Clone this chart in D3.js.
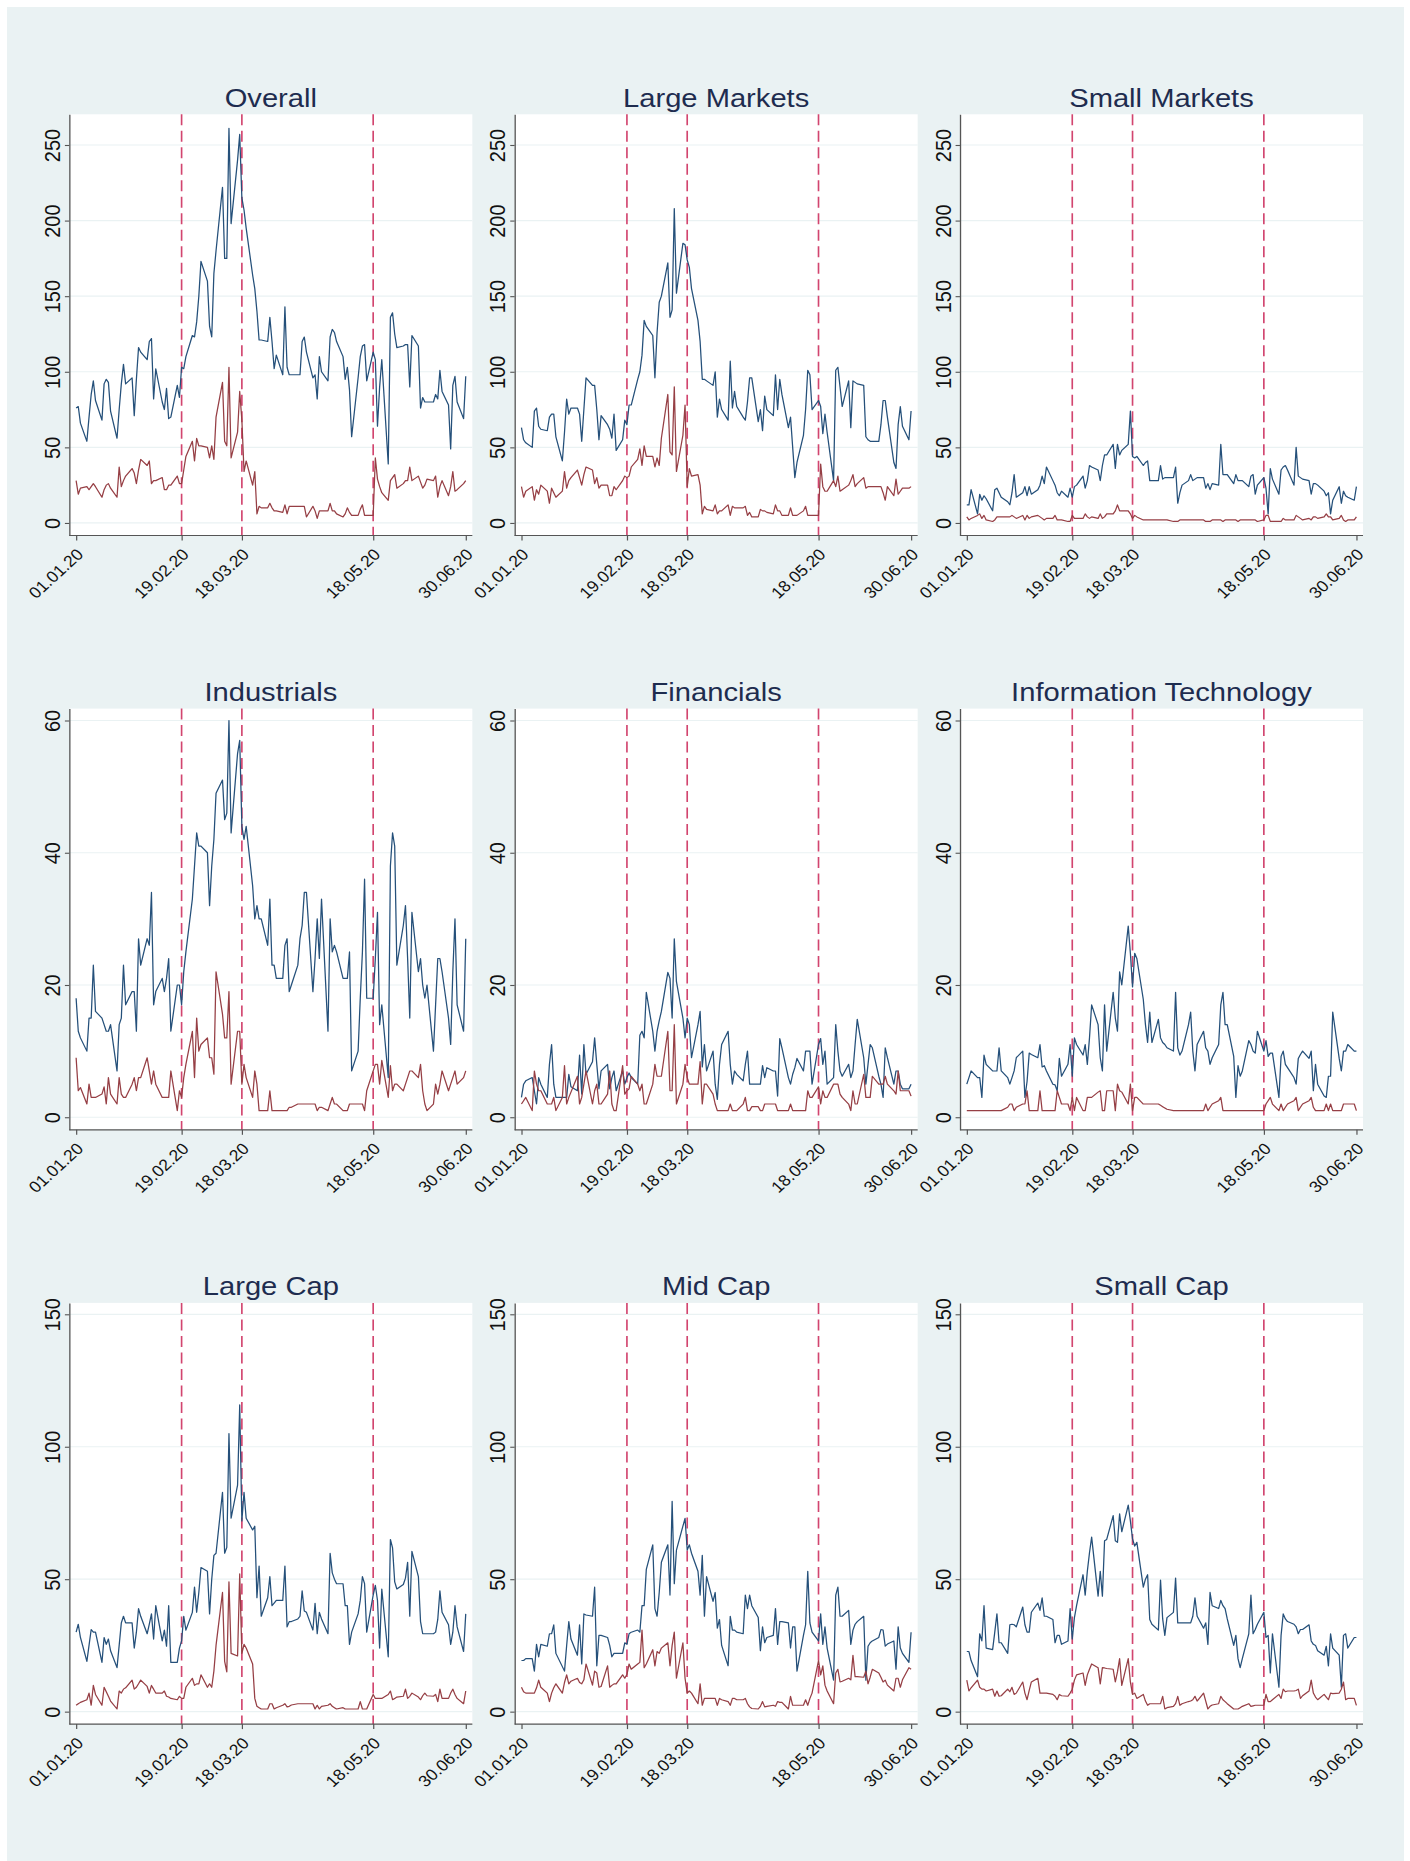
<!DOCTYPE html>
<html>
<head>
<meta charset="utf-8">
<script src="https://cdn.jsdelivr.net/npm/d3@7"></script>
<style>
  body { margin: 0; background: #fff; }
  text { font-family: "Liberation Sans", Arial, Helvetica, sans-serif; }
</style>
</head>
<body>
<svg id="chart"></svg>
<script>
"use strict";

///////////
///// data (one value per trading day, 01.01.20 - 30.06.20)
///////////

var overallA = [76,77,66, 54,70,85,94,81, 68,92,95,93,74, 56,75,92,105,92, 96,71,95,116,113,
  108,120,122,82,102, 80,75,89,69,70, 91,83,103,102,110, 124,123,133,150,173, 160,130,123,165,180,
  222,175,175,261,198, 240,257,215,207,195, 164,155,140,121,121, 120,136,120,102,111, 98,143,103,98,98,
  98,98,120,123,113, 96,98,82,110,100, 94,123,128,126,120, 110,95,103,88,57, 96,110,117,118,94,
  113,108,64,90,108, 39,136,139,125,116, 117,118,118,90,124, 117,76,83,80,80, 80,85,82,101,87,
  78,49,91,97,80, 69,97];
var overallB = [28,19,23, 24,22,24,26,24, 17,22,25,26,23, 17,37,24,28,31, 36,33,26,35,42,
  38,41,26,28,28, 30,22,22,25,25, 31,26,26,35,44, 54,41,56,51,51, 50,43,51,42,70,
  93,54,51,103,43, 60,87,68,34,41, 25,34,6,11,10, 10,13,10,8,8, 7,12,6,11,11,
  11,11,11,11,4, 11,8,3,8,8, 8,13,8,8,6, 4,6,10,7,5, 5,9,12,5,5,
  5,43,29,24,20, 15,28,30,32,23, 26,28,28,37,28, 31,27,23,25,29, 28,31,17,24,28,
  18,24,34,21,22, 26,28];

var largeMarketsA = [63,55,53, 50,74,76,64,62, 61,70,72,72,57, 41,60,82,72,76, 76,72,54,75,96,
  91,91,75,55,71, 65,62,56,72,48, 55,68,65,78,78, 95,100,111,134,130, 124,96,126,146,150,
  172,136,141,208,152, 185,184,174,169,155, 134,120,95,95,94, 91,100,70,82,75, 68,107,76,87,77,
  70,68,80,96,96, 67,75,61,84,75, 71,98,75,95,85, 63,70,50,30,40, 58,75,101,98,75,
  81,77,59,72,60, 28,101,103,90,77, 94,63,94,93,92, 91,57,55,54,54, 54,65,81,81,70,
  40,36,65,77,64, 55,74];
var largeMarketsB = [24,17,21, 24,15,22,19,25, 21,13,23,20,17, 21,34,23,28,30, 35,30,25,32,37,
  35,26,30,23,25, 25,18,18,24,22, 28,31,30,31,37, 42,49,38,51,44, 44,37,43,38,56,
  85,47,45,90,34, 58,78,24,36,31, 32,25,6,11,9, 8,12,6,8,8, 12,5,11,10,10,
  10,11,5,7,4, 4,9,8,8,7, 6,12,8,8,5, 5,10,5,5,5, 8,11,5,5,5,
  5,39,24,21,21, 28,24,31,21,22, 25,28,32,24,26, 30,23,24,24,24, 24,24,20,15,24,
  18,29,19,21,23, 23,24];

var smallMarketsA = [12,12,22, 6,19,15,18,16, 8,22,23,20,17, 14,12,20,32,17, 20,24,18,24,19,
  22,25,31,26,37, 28,25,20,18,21, 17,23,17,24,25, 31,23,28,38,37, 35,28,38,45,45,
  52,36,52,45,48, 52,74,44,43,44, 38,40,41,28,28, 28,38,29,30,30, 30,37,13,20,25,
  28,32,28,29,30, 30,23,26,22,26, 25,52,32,32,32, 26,32,28,28,28, 24,31,32,19,25,
  30,23,6,36,29, 19,35,37,38,35, 25,50,31,30,29, 28,19,26,26,25, 21,18,20,6,15,
  24,13,21,18,17, 15,24];
var smallMarketsB = [4,2,3, 5,6,3,5,2, 1,2,4,4,4, 4,4,5,4,3, 5,2,5,3,4,
  5,4,3,2,3, 3,5,2,2,2, 1,1,5,3,3, 3,6,4,3,4, 3,6,3,4,6,
  6,8,12,8,8, 8,6,3,5,4, 2,2,2,2,2, 2,2,2,2,2, 1,1,1,2,2,
  2,2,2,2,2, 2,1,1,1,2, 2,2,1,2,2, 2,2,1,2,2, 2,2,2,2,1,
  2,5,5,1,1, 1,1,3,2,2, 2,5,4,3,2, 3,2,4,4,3, 4,6,4,4,2,
  3,5,2,1,2, 2,4];

var industrialsA = [18,13,12, 10,15,15,23,16, 15,14,13,13,14, 7,14,15,23,17, 19,19,13,27,23,
  27,26,34,17,19, 21,19,21,24,13, 20,20,17,22,25, 33,38,43,41,41, 40,32,38,42,49,
  51,45,46,60,43, 55,57,44,42,44, 35,30,32,30,30, 26,33,23,23,21, 21,26,27,19,20,
  23,27,29,34,34, 19,24,30,24,33, 13,30,25,26,25, 21,21,21,25,7, 10,18,25,36,18,
  18,24,31,14,17, 6,38,43,41,23, 29,32,24,15,31, 22,24,20,18,20, 10,17,24,24,22,
  15,11,22,30,17, 13,27];
var industrialsB = [9,4,4.5, 2,5,3,3,3, 3.5,4.6,2,6,3.5, 2,6,3.5,3,3, 5,6,4,6,6,
  9,7,5,7,5, 3,3,3,3,7, 1,4,3,6,8, 13,6,15,10,11, 12,9,9,6.5,22,
  15.6,12,12,19,5, 13,13,5,8,6, 3,7,5,1,1, 1,4,1,1,1, 1,1,1,1.5,1.5,
  2,2,2,2,2, 2,2,1,1.5,1.5, 1,2,3,2,2, 1,1,1,2,2, 2,2,2,1,4,
  7,8,8,5,8.6, 3,7.8,4,5,5, 4,5,6,7,7, 6,8,4,2,1, 2,5,3.5,5,7,
  4,5,6,7,5, 6,7];

var financialsA = [3,5,5.5, 6,4,2,6,5, 3,8,11,5,3, 3,3,3,6.5,4.6, 4,9.4,3.5,11,6.5,
  8.4,12,8,4.3,7, 8,4.3,6,7,4, 7,5,6,6.7,6, 5,12.4,13,12,18.9, 13,10,13,14.6,16,
  21.9,21,15,27,20.5, 15,12,15,14,9, 14,16,7.6,11,7, 10,5,2.7,8,11, 13,8,5,7,6.5,
  5.5,8,10,5,5, 5,5,7.8,6,7.5, 7,7,3.2,11.9,10.5, 6,5,6.5,7.5,8.9, 7,10,10,10,5,
  11,11.9,8,10,5, 6,14,10,7,6.2, 8,6,7,11,14.8, 9,5,8,11,10.5, 6.2,5,3,10.5,9,
  5,7,7,5,4.3, 4.3,5];
var financialsB = [2,2.5,3, 1,7,5,4,4, 2,2,2,3,1, 3,7.8,2,3,3.8, 6.2,2,3,5,7,
  2,4,5,2,2, 3.5,7,2,1,1, 7.8,3.5,4,4.3,6.2, 5,4,5,2,2, 5,8,6.2,6.2,6.2,
  13,4,4,14,2, 5,8,6,5,5, 5,8.4,2,5,5, 3.5,2,1,1,1, 1,2,1,1,1,
  2,3,1,1,1.6, 1.6,1,1,2,2, 2,2,1,1,1, 1,2,1,1,1, 1,1,4,3,3,
  4.6,2,4,3,3, 5,5,5,3.5,3, 2,1,4,2,2, 6.5,3,3,3,6.2, 5,5,5,6.2,5,
  4,3.5,7,4,4, 4,3.2];

var infoTechA = [5,6,7, 6,6,3,9.4,8, 7,7,7,10.5,7, 6,5,6,7,9, 10,3,5.4,9.7,9.5,
  9,11,7.6,7.8,7, 5,4.9,4,8.9,6.2, 8,11,6.2,12,11, 9.4,11,8,12,17, 14,9,7,17,10,
  18.9,15,13,22,20, 28.9,24.8,19.7,24.8,24, 17.8,14,11.3,15.9,11.3, 14.8,12,11.3,11,10.5, 10,18.9,10.5,9.4,10,
  14,15.9,10,7,11, 13,10.5,10,8,9, 11,17,18.9,14,14, 9.2,3,7.8,6.2,7, 11.6,11,10,9.7,13,
  10,11.6,9.2,9.7,9.7, 3,9.2,10,8,7.5, 6,5,8.9,9.5,10, 8.9,10,4,8,5, 3.2,3,6.2,6.2,15.9,
  8.9,7,10,10,11, 10,10];
var infoTechB = [1,1,1, 1,1,1,1,1, 1,1,1,1,1, 1.5,2,2,1,1.5, 2,2,4,1,1,
  1,4,1,1,1, 1,1,4,3,2, 2,1,3,1,3, 1,1,3,3,3, 3.8,4,1,1,4,
  4,1,5,4,3.8, 2,5,1,3,3, 2,2,2,2,2, 2,1.8,1.6,1.4,1.2, 1,1,1,1,1,
  1,1,1,1,1, 1,2,1,1.5,2, 2.5,3,1,1,1, 1,1,1,1,1, 1,1,1,1,1,
  1,2,2.5,3,2, 1,2,1,1.5,2, 2.5,3,1,1.5,2, 2.5,3,1.5,1,1, 1,2,1,2,1,
  1,1,2,2,2, 2,1];

var largeCapA = [30,33,28, 19,25,31,30,30, 18.6,28,25.4,27.4,23, 16.6,25,33.5,36,33.5, 33.5,24,30,38.9,36,
  29.4,33,36.9,27.4,40, 26.7,30.8,24.7,40,18.6, 18.6,24,26.7,36,30.8, 37.5,47,37.5,45,54.4, 53,36.9,50,59,59.8,
  82.8,59.8,62,105,73, 85.5,115.8,72,82.8,73, 68.6,70,43,55,36, 43,51,40,41,42, 42,55,32,34,34,
  35,36,45.6,38,37.5, 30.8,40.9,29.4,37.5,35, 29.4,59.8,52.4,50,48.3, 48.3,40,40,25.4,30, 36.9,42,51,48.3,30,
  44,47.7,42,24,46.3, 20.7,65,61.8,49,46.3, 48,50.4,56.4,36,60.5, 51,34,29.4,29.4,29.4, 29.4,30,34.8,45.6,37.5,
  32.8,25.4,30,40,32, 22.7,36.9];
var largeCapB = [2.4,3,3.5, 4.5,7,2.4,9.9,6.5, 2.4,9.2,7.5,5.8,4, 1,7.8,7,8.5,9, 11.9,8.5,9.2,10.5,11.9,
  9.5,7,9.9,8.5,7, 7,7.8,5.8,5.5,5, 4.5,5.8,5,5,9.2, 12.6,9.9,10.5,10.5,13.9, 9.2,10.5,9.2,15.3,25,
  45,19,15,49,22, 21,52,22,25.4,24, 18,5,2,1.5,1, 1,3,3,1,1.5, 2.4,3,1.8,2,2.5,
  3,3,3,3,3, 3,1,2.4,1,2, 2.4,3,2,1.5,1, 1.5,1,1,1,1, 1,3.8,1,1,1,
  6.5,5,5,5,5, 6.5,7.8,4.5,5,5.5, 5.8,8.5,5,5.8,7, 5.5,4.5,6,7,6, 5.8,6.5,3.8,8.5,5,
  5,7,8.5,6.5,5, 3,7.8];

var midCapA = [19.3,19.3,20, 20,15.3,25.4,20.7,25.4, 24.7,29.4,29.4,32.8,22, 17,15.3,25,34,27.4, 21.3,32.8,18,36.9,36.5,
  36,47,17.3,28.8,28.8, 28,25,20.7,22,22, 22,26,25.4,29.4,30, 30.8,30,40,40,53.7, 63,38.9,36,45,56.4,
  63,44,79.4,48.3,61, 70,73,61,63,59.8, 53,44,59,36,51, 41.6,45,31.5,34.8,25, 17.3,36,30.8,30.8,30,
  29.4,44,38.9,44,40, 35.5,23,32,26,28, 28.8,38.9,25.4,34,34, 33.5,24,32,32,15.3, 28.8,32.8,53,33.5,30,
  26.7,36.9,25.4,32,24, 11.9,44,47,36,36, 38.2,25.4,30.8,33,34, 36,11.9,24.7,26,26.7, 28,31,30.8,24.7,25.5,
  26.7,16,32,24,22, 18.6,30];
var midCapB = [9.2,7.5,7, 7,7,9,11.9,9.2, 7,3.8,7,9,10.5, 7,11,13.9,10.5,11.5, 12.6,11,10.5,12,18,
  10,15.3,14.6,9.2,9.5, 17.3,9.2,9.9,10.5,10.5, 13.9,12.6,14,18,16, 18,18.6,30.8,16.6,18, 23.4,17.3,22.7,22,24,
  26,17.3,25,30,12.6, 26,12.6,7,7.8,7, 3,10.5,2.4,5,5, 5,5,2.4,5,4.5, 3.8,2.4,5,5,4.5,
  4.5,5,3,1.8,1.2, 1,2,3.8,1.8,2, 2.4,2,3.8,3.5,3.5, 1,5.8,2.4,2.4,2.4, 2.4,4.5,2.4,5,7,
  19.3,13.9,17.3,10,7.8, 3,14.6,16,11.2,11.5, 12.6,12,21.3,13.2,13.2, 13,15.3,10.5,13,16, 14.6,13,11.2,11.9,10,
  7.8,12.6,12.6,9.2,12, 16.6,16];

var smallCapA = [22.7,22.7,19.3, 13.2,29.4,26.7,40,24, 23.4,30,36.9,26,26, 22,32.8,33,32.8,32, 39.5,32.8,30,30,37.5,
  41,38.2,43,36,36, 34.8,26,28.8,28.8,25.4, 26.7,38.9,27.4,35.5,40, 51.7,44,53,60,65.9, 43.6,53,43.6,64.5,65,
  74,64.5,63.9,74.7,67.9, 78,72,65.2,62.5,63.9, 47,50,51.7,34.8,33, 30.8,49.7,35,28.8,35.5, 37.5,50.4,33.5,33.5,33.5,
  33.5,33.5,36,43,36, 31.5,33.5,25.4,45,40, 38.9,42,40,38.9,35, 25,28.8,20,16.6,20, 29.4,44,29.4,31,33,
  37.5,28,28.8,14.6,29.4, 9.2,28.8,36.9,35,34, 33,32,29.4,31,31, 32.8,26.7,25.4,25,23, 21.3,24.7,17.3,29.4,24,
  21.3,9.2,28.8,29.4,24, 28,28];
var smallCapB = [11.9,7.8,9, 11.9,9.2,8.5,8.5,7.8, 8.5,5.8,7.8,5.8,6, 8.5,7.5,9.2,6.5,7, 11.2,7,4.5,8,11.2,
  12.6,7,7,7,7, 6.5,5.8,4.5,6.5,6, 5.8,7,8.5,11.9,13.9, 14.6,9.9,13.9,16,18, 16.6,10.5,16.6,16.5,16.3,
  16,11.2,15,20,9.9, 20,11.2,6.5,7,5, 6.5,4,2.4,3,3, 3,3,5.8,1,1.5, 2,3,5.8,2.4,3,
  3.8,4,4.5,5.8,4, 7,4,1,2,2.5, 3,5.8,4.5,3.8,3, 1,1,1,1.5,2, 3,2,2.2,2.4,2.4,
  2.4,6.5,3.8,3.8,4.5, 6.5,5,8.5,7.5,7.8, 7.8,8,8.5,5,6, 7.8,11.9,7,5.5,4.5, 6.5,5.5,4.5,7,6.8,
  7,8.5,11.2,4.5,5, 5,2.4];

var titles = ["Overall", "Large Markets", "Small Markets",
              "Industrials", "Financials", "Information Technology",
              "Large Cap", "Mid Cap", "Small Cap"];
var seriesA = [overallA, largeMarketsA, smallMarketsA, industrialsA, financialsA, infoTechA, largeCapA, midCapA, smallCapA];
var seriesB = [overallB, largeMarketsB, smallMarketsB, industrialsB, financialsB, infoTechB, largeCapB, midCapB, smallCapB];

var rowTicks = [[0, 50, 100, 150, 200, 250], [0, 20, 40, 60], [0, 50, 100, 150]];
var rowDomains = [[-8.3, 270.3], [-1.9, 61.8], [-4.7, 154.3]];

var tickDates = ["2020-01-01", "2020-02-19", "2020-03-18", "2020-05-18", "2020-06-30"];
var eventDates = ["2020-02-19", "2020-03-18", "2020-05-18"];

///////////
///// layout
///////////

var W = 1410, H = 1861;
var SX = 1.1;                 // the source picture is a little wider than tall
var VW = W / SX;
var colX = [63, 467.85, 872.7];
var rowY = [114.3, 708.6, 1302.9];
var pw = 366.4, ph = 421.2;
var padL = 6.2, padR = 6.0;

var parse = d3.utcParse("%Y-%m-%d");
var fmt = d3.utcFormat("%d.%m.%y");

// trading days (weekdays) of the first half of 2020
var days = d3.utcDay.range(parse("2020-01-01"), parse("2020-07-01"))
  .filter(d => d.getUTCDay() !== 0 && d.getUTCDay() !== 6);

var svg = d3.select("#chart")
  .attr("width", W).attr("height", H)
  .attr("viewBox", "0 0 " + VW + " " + H)
  .attr("preserveAspectRatio", "none");

svg.append("rect").attr("width", VW).attr("height", H).attr("fill", "#fff");
svg.append("rect")
  .attr("x", 7 / SX).attr("y", 7)
  .attr("width", (1404 - 7) / SX).attr("height", H - 7)
  .attr("fill", "#EAF2F3");

var x = d3.scaleUtc()
  .domain([parse("2020-01-01"), parse("2020-06-30")])
  .range([padL, pw - padR]);

titles.forEach((title, k) => {
  var r = Math.floor(k / 3), c = k % 3;
  var y = d3.scaleLinear().domain(rowDomains[r]).range([ph, 0]);

  var g = svg.append("g").attr("transform", "translate(" + colX[c] + "," + rowY[r] + ")");

  g.append("rect").attr("width", pw).attr("height", ph).attr("fill", "#fff");

  // grid
  g.selectAll(".grid").data(rowTicks[r]).join("line")
    .attr("x1", 0).attr("x2", pw)
    .attr("y1", d => y(d)).attr("y2", d => y(d))
    .attr("stroke", "#EAF2F3").attr("stroke-width", 1.2);

  // event lines
  g.selectAll(".ev").data(eventDates).join("line")
    .attr("x1", d => x(parse(d))).attr("x2", d => x(parse(d)))
    .attr("y1", 0).attr("y2", ph)
    .attr("stroke", "#D2456F").attr("stroke-width", 1.5)
    .attr("stroke-dasharray", "11,5.5");

  var line = d3.line()
    .x((d, i) => x(days[i]))
    .y(d => y(d));

  g.append("path").attr("d", line(seriesA[k]))
    .attr("fill", "none").attr("stroke", "#25507A").attr("stroke-width", 1.15)
    .attr("stroke-linejoin", "round");
  g.append("path").attr("d", line(seriesB[k]))
    .attr("fill", "none").attr("stroke", "#963F45").attr("stroke-width", 1.15)
    .attr("stroke-linejoin", "round");

  // y axis
  var ya = g.append("g")
    .call(d3.axisLeft(y).tickValues(rowTicks[r]).tickSize(4).tickSizeOuter(0).tickFormat(d3.format("d")));
  ya.select(".domain").attr("stroke", "#555").attr("stroke-width", 1.2);
  ya.selectAll(".tick line").attr("stroke", "#555").attr("stroke-width", 1.1);
  ya.selectAll(".tick text")
    .attr("x", 0).attr("dy", 0)
    .attr("transform", "translate(-8.5,0) rotate(-90)")
    .attr("text-anchor", "middle")
    .attr("font-size", 20).attr("fill", "#111");

  // x axis
  var xa = g.append("g").attr("transform", "translate(0," + ph + ")")
    .call(d3.axisBottom(x).tickValues(tickDates.map(parse)).tickSize(5).tickSizeOuter(0).tickFormat(fmt));
  xa.select(".domain").remove();
  xa.append("line").attr("x1", 0).attr("x2", pw)
    .attr("stroke", "#555").attr("stroke-width", 1.2);
  xa.selectAll(".tick line").attr("stroke", "#555").attr("stroke-width", 1.1);
  xa.selectAll(".tick text")
    .attr("y", 0).attr("dy", 0)
    .attr("transform", "translate(7,20) rotate(-45)")
    .attr("text-anchor", "end")
    .attr("font-size", 16).attr("fill", "#111");

  g.append("text")
    .attr("x", pw / 2).attr("y", -7.8)
    .attr("text-anchor", "middle")
    .attr("font-size", 26.5)
    .attr("fill", "#1E2C4F")
    .text(title);
});
</script>
</body>
</html>
